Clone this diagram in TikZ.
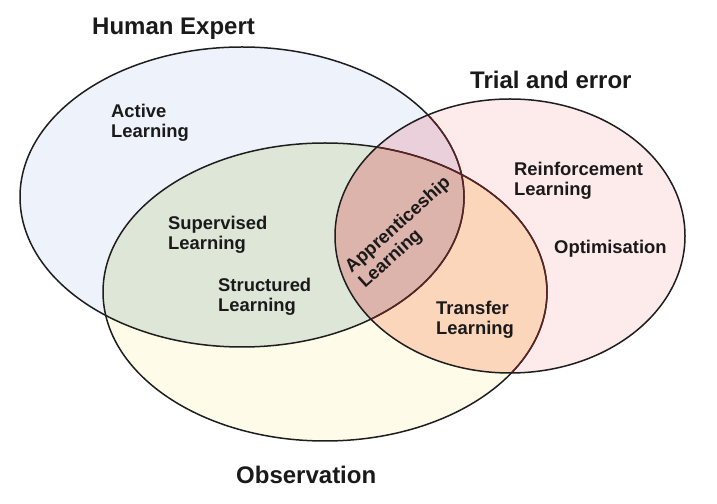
\documentclass[tikz,border=0pt]{standalone}
\usepackage{fontspec}
\setmainfont{Liberation Sans}
\definecolor{cB}{HTML}{EEF2FB}
\definecolor{cP}{HTML}{FDEBEC}
\definecolor{cY}{HTML}{FEFCE9}
\definecolor{cBY}{HTML}{DEE6D8}
\definecolor{cBP}{HTML}{EAD0DA}
\definecolor{cPY}{HTML}{FCD6BB}
\definecolor{cBPY}{HTML}{DDB4AB}
\definecolor{lineK}{HTML}{1E1E1E}
\definecolor{lineR}{HTML}{5A2424}
\definecolor{txt}{HTML}{1A1A1A}
\begin{document}
\begin{tikzpicture}[x=1pt,y=1pt,
  title/.style={font=\fontsize{24}{28}\selectfont\bfseries, inner sep=0pt, anchor=north west, text=txt},
  lab/.style={font=\fontsize{18.4}{20}\selectfont\bfseries, inner sep=0pt, align=left, anchor=north west, text=txt},
  outline/.style={line width=1.5pt, draw=lineK},
  redline/.style={line width=1.5pt, draw=lineR}]
\useasboundingbox (0,0) rectangle (717,503);
\fill[white] (0,0) rectangle (717,503);
\def\EB{(242,306) ellipse [x radius=222pt, y radius=150pt]}
\def\EY{(325,211) ellipse [x radius=222pt, y radius=149pt]}
\def\EP{(510,267) ellipse [x radius=175pt, y radius=137pt]}
% base fills
\fill[cB] \EB;
\fill[cY] \EY;
\fill[cP] \EP;
\begin{scope}
  \clip \EB;
  \fill[cBY] \EY;
  \fill[cBP] \EP;
  \clip \EY;
  \fill[cBPY] \EP;
\end{scope}
\begin{scope}
  \clip \EY;
  \clip \EP;
  \begin{scope}[even odd rule]
    \clip \EB (-10,-10) rectangle (727,513);
    \fill[cPY] \EP;
  \end{scope}
\end{scope}
% outlines
\draw[outline] \EB;
\draw[outline] \EY;
\begin{scope}
  \clip \EP;
  \draw[redline] \EB;
  \draw[redline] \EY;
\end{scope}
\draw[outline] \EP;
% titles
\node[title] (he) at (92,485.5) {Human Expert};
\node[title] (te) at (470,432) {Trial and error};
\node[title] (ob) at (236,37) {Observation};
% labels
\node[lab] (al) at (111,399) {Active\\Learning};
\node[lab] (sl) at (168,287) {Supervised\\Learning};
\node[lab] (stl) at (218,225) {Structured\\Learning};
\node[lab] (tl) at (436,202) {Transfer\\Learning};
\node[lab] (rl) at (514,341) {Reinforcement\\Learning};
\node[lab] (op) at (554,263) {Optimisation};
\node[lab, anchor=center, rotate=42] (ap) at (405,270) {Apprenticeship\\Learning};
\end{tikzpicture}
\end{document}
